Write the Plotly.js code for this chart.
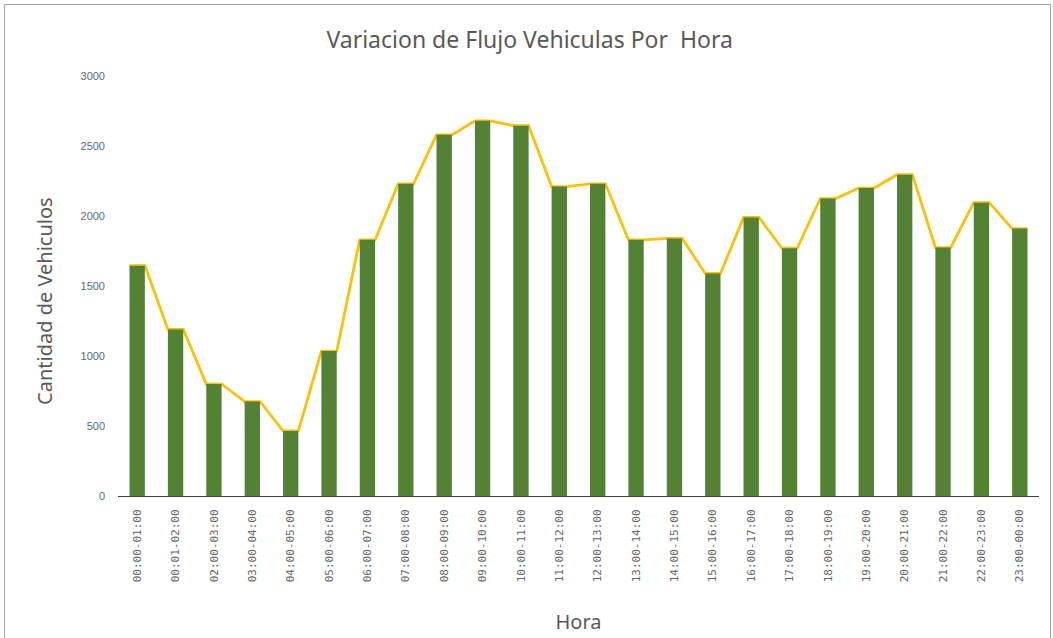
<!DOCTYPE html>
<html>
<head>
<meta charset="utf-8">
<script src="https://cdn.plot.ly/plotly-3.0.1.min.js"></script>
<style>
  html, body { margin: 0; padding: 0; background: #ffffff; }
  #wrap { position: relative; width: 1053px; height: 638px; overflow: hidden; }
  #chart { width: 1053px; height: 638px; }
  #frame { position: absolute; left: 4px; top: 4px; width: 1045px; height: 660px; border: 1px solid #a6a6a6; pointer-events: none; }
</style>
</head>
<body>
<div id="wrap">
  <div id="chart"></div>
  <div id="frame"></div>
</div>
<script>
const chartTitle = "Variacion de Flujo Vehiculas Por  Hora";
const xTitle = "Hora";
const yTitle = "Cantidad de Vehiculos";

const categories = [
  "00:00-01:00", "00:01-02:00", "02:00-03:00", "03:00-04:00", "04:00-05:00", "05:00-06:00",
  "06:00-07:00", "07:00-08:00", "08:00-09:00", "09:00-10:00", "10:00-11:00", "11:00-12:00",
  "12:00-13:00", "13:00-14:00", "14:00-15:00", "15:00-16:00", "16:00-17:00", "17:00-18:00",
  "18:00-19:00", "19:00-20:00", "20:00-21:00", "21:00-22:00", "22:00-23:00", "23:00-00:00"
];

const vehicles = [
  1645, 1190, 800, 675, 465, 1035,
  1830, 2230, 2580, 2680, 2645, 2210,
  2230, 1830, 1840, 1590, 1990, 1770,
  2125, 2200, 2295, 1775, 2095, 1910
];

const yTickValues = [0, 500, 1000, 1500, 2000, 2500, 3000];

const barWidth = 0.4;
const idx = categories.map((c, i) => i);

// line runs along the top edge of each bar (left corner -> right corner)
const lineX = [];
const lineY = [];
vehicles.forEach((v, i) => {
  lineX.push(i - barWidth / 2, i + barWidth / 2);
  lineY.push(v, v);
});

const lineTrace = {
  type: "scatter",
  mode: "lines",
  x: lineX,
  y: lineY,
  xaxis: "x",
  yaxis: "y",
  line: { color: "#FFC000", width: 2.75 },
  hoverinfo: "skip",
  showlegend: false
};

const barTrace = {
  type: "bar",
  x: idx,
  y: vehicles,
  xaxis: "x2",
  yaxis: "y2",
  width: barWidth,
  marker: { color: "#548235" },
  text: categories,
  hovertemplate: "%{text}: %{y}<extra></extra>",
  textposition: "none",
  showlegend: false
};

const xRange = [-0.5, categories.length - 0.5];
const yRange = [0, 3000];
const grey = "#595959";

const layout = {
  width: 1053,
  height: 638,
  margin: { l: 118, r: 14, t: 75.5, b: 141.5 },
  paper_bgcolor: "#ffffff",
  plot_bgcolor: "#ffffff",
  showlegend: false,
  title: {
    text: chartTitle,
    font: { family: "Noto Sans, Open Sans, sans-serif", size: 23, color: grey },
    x: 0.503, xref: "container", xanchor: "center",
    y: 1 - 40 / 638, yref: "container", yanchor: "middle"
  },
  xaxis: {
    range: xRange,
    tickmode: "array",
    tickvals: idx,
    ticktext: categories,
    tickangle: -90,
    tickfont: { family: "DejaVu Sans Mono, monospace", size: 11, color: "#666666" },
    ticklabelstandoff: 8,
    showgrid: false,
    zeroline: false,
    showline: true,
    linecolor: "#404040",
    linewidth: 1,
    ticks: "",
    fixedrange: true,
    title: {
      text: xTitle,
      font: { family: "Noto Sans, Open Sans, sans-serif", size: 20, color: grey },
      standoff: 33
    },
    automargin: false
  },
  yaxis: {
    range: yRange,
    tickmode: "array",
    tickvals: yTickValues,
    tickfont: { family: "Liberation Sans, Arial, sans-serif", size: 11, color: "#666666" },
    ticklabelstandoff: 12,
    showgrid: false,
    zeroline: false,
    showline: false,
    ticks: "",
    fixedrange: true,
    automargin: false
  },
  xaxis2: {
    overlaying: "x",
    range: xRange,
    visible: false,
    fixedrange: true
  },
  yaxis2: {
    overlaying: "y",
    range: yRange,
    visible: false,
    fixedrange: true
  },
  annotations: [
    {
      text: yTitle,
      textangle: -90,
      xref: "paper", yref: "paper",
      x: (45 - 118) / 921, y: (496.5 - 301) / 421,
      xanchor: "center", yanchor: "middle",
      showarrow: false,
      font: { family: "Noto Sans, Open Sans, sans-serif", size: 20, color: grey }
    }
  ]
};

Plotly.newPlot("chart", [lineTrace, barTrace], layout, { displayModeBar: false });
</script>
</body>
</html>
